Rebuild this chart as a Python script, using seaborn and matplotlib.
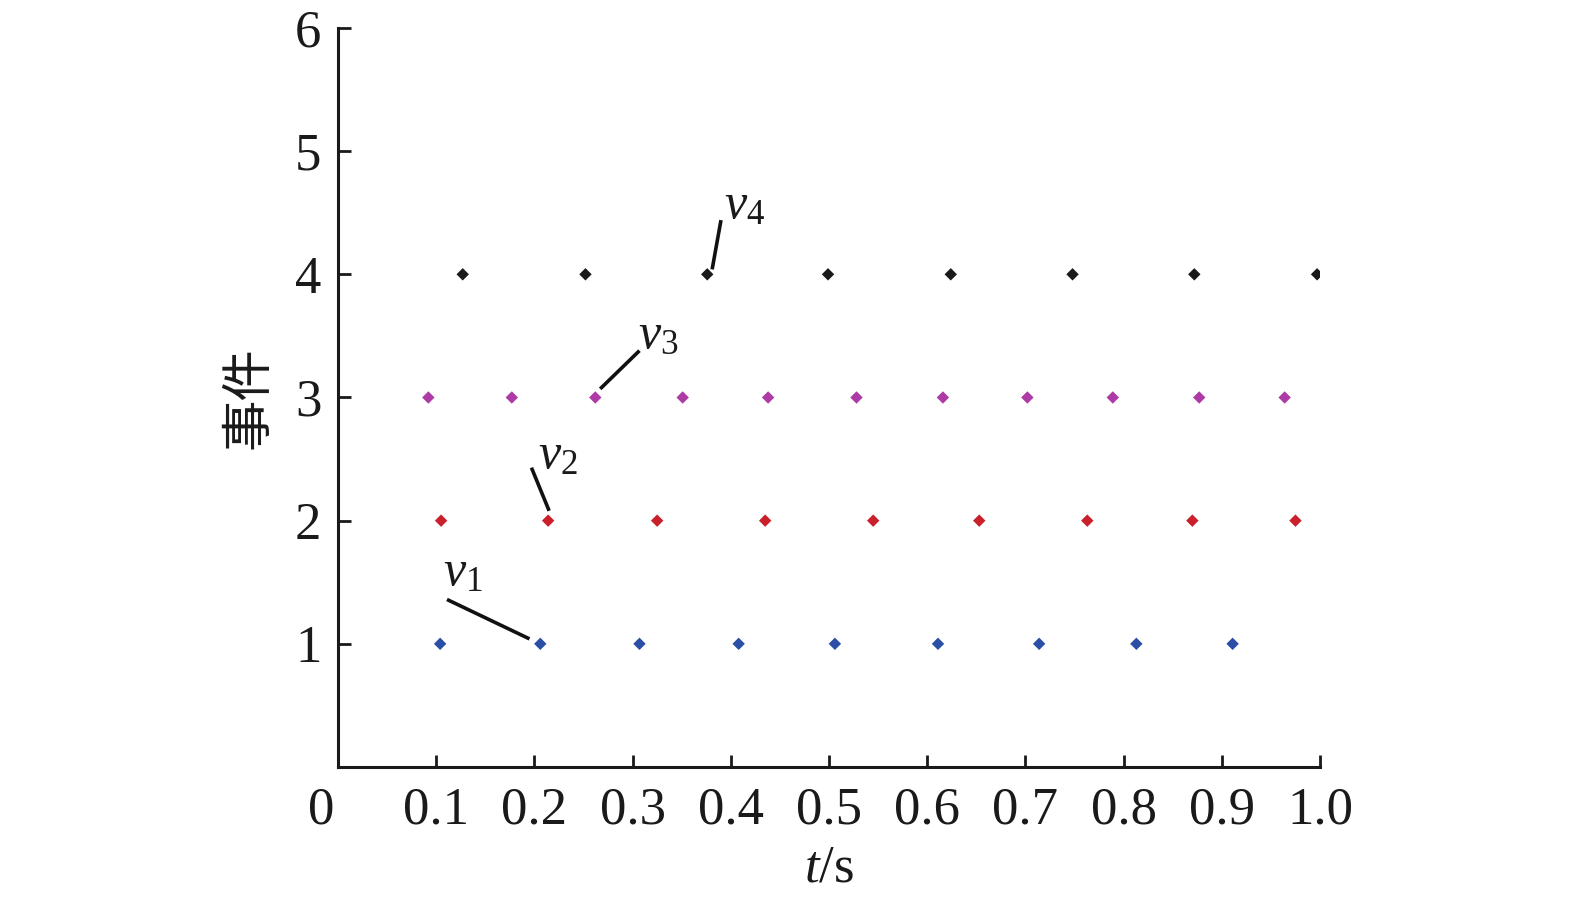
import matplotlib
matplotlib.use("Agg")
import matplotlib.pyplot as plt
import pandas as pd
import seaborn as sns

# event times (s), one list per event
t_v1 = [0.104, 0.206, 0.307, 0.408, 0.506, 0.611, 0.714, 0.813, 0.911]
t_v2 = [0.105, 0.214, 0.325, 0.435, 0.545, 0.653, 0.763, 0.870, 0.975]
t_v3 = [0.092, 0.177, 0.262, 0.351, 0.438, 0.528, 0.616, 0.702, 0.789, 0.877, 0.964]
t_v4 = [0.127, 0.252, 0.376, 0.499, 0.624, 0.748, 0.872, 0.997]

events = ["v1", "v2", "v3", "v4"]
event_level = [1, 2, 3, 4]
colors = {"v1": "#2b4ea6", "v2": "#c9202b", "v3": "#ae3aa6", "v4": "#1a1a1a"}

x_ticks = [0.1, 0.2, 0.3, 0.4, 0.5, 0.6, 0.7, 0.8, 0.9, 1.0]
y_ticks = [1, 2, 3, 4, 5, 6]

# leader lines: (x0, y0, x1, y1) in data units, plus label position
leaders = {
    "v1": ((0.111, 1.36, 0.195, 1.04), (0.107, 1.39)),
    "v2": ((0.197, 2.43, 0.215, 2.08), (0.204, 2.34)),
    "v3": ((0.267, 3.07, 0.307, 3.38), (0.306, 3.31)),
    "v4": ((0.381, 4.04, 0.390, 4.44), (0.393, 4.37)),
}

rows = []
for name, lvl, times in zip(events, event_level, [t_v1, t_v2, t_v3, t_v4]):
    for t in times:
        rows.append({"t": t, "level": lvl, "event": name})
df = pd.DataFrame(rows)

sns.set_style("ticks")
plt.rcParams["font.family"] = ["Liberation Serif", "Noto Sans CJK SC"]
plt.rcParams["mathtext.fontset"] = "custom"
plt.rcParams["mathtext.rm"] = "Liberation Serif"
plt.rcParams["mathtext.it"] = "Liberation Serif:italic"

fig = plt.figure(figsize=(15.75, 9), dpi=100)
ax = fig.add_axes([0.2146, 0.1478, 0.6235, 0.8211])

sns.scatterplot(data=df, x="t", y="level", hue="event", palette=colors,
                marker="D", s=40, edgecolor="none", legend=False, ax=ax)

for name, ((x0, y0, x1, y1), (lx, ly)) in leaders.items():
    ax.plot([x0, x1], [y0, y1], color="#111111", lw=2.6, solid_capstyle="butt")
    ax.text(lx, ly, r"$v_{%s}$" % name[1], fontsize=36, ha="left", va="bottom",
            color="#1a1a1a")

ax.set_xlim(0, 1.0)
ax.set_ylim(0, 6)
ax.set_xticks(x_ticks)
ax.set_xticklabels([f"{v:.1f}" for v in x_ticks])
ax.set_yticks(y_ticks)
ax.set_yticklabels([str(v) for v in y_ticks])
ax.tick_params(direction="in", length=9, width=2, labelsize=38,
               colors="#1a1a1a")
ax.tick_params(axis="x", pad=14)
ax.tick_params(axis="y", pad=12)

for side in ["top", "right"]:
    ax.spines[side].set_visible(False)
for side in ["left", "bottom"]:
    ax.spines[side].set_linewidth(2.2)
    ax.spines[side].set_color("#1a1a1a")

# shared origin label
ax.annotate("0", xy=(0, 0), xytext=(-12, -14), textcoords="offset points",
            ha="center", va="top", fontsize=38, color="#1a1a1a")

ax.set_xlabel(r"$t$/s", fontsize=38, color="#1a1a1a")
ax.xaxis.set_label_coords(0.5, -0.105)
ax.set_ylabel("事件", fontsize=37, color="#1a1a1a",
              family=["Noto Sans CJK SC", "DejaVu Sans"])
ax.yaxis.set_label_coords(-0.064, 0.5)

fig.savefig("out.png", dpi=100)
